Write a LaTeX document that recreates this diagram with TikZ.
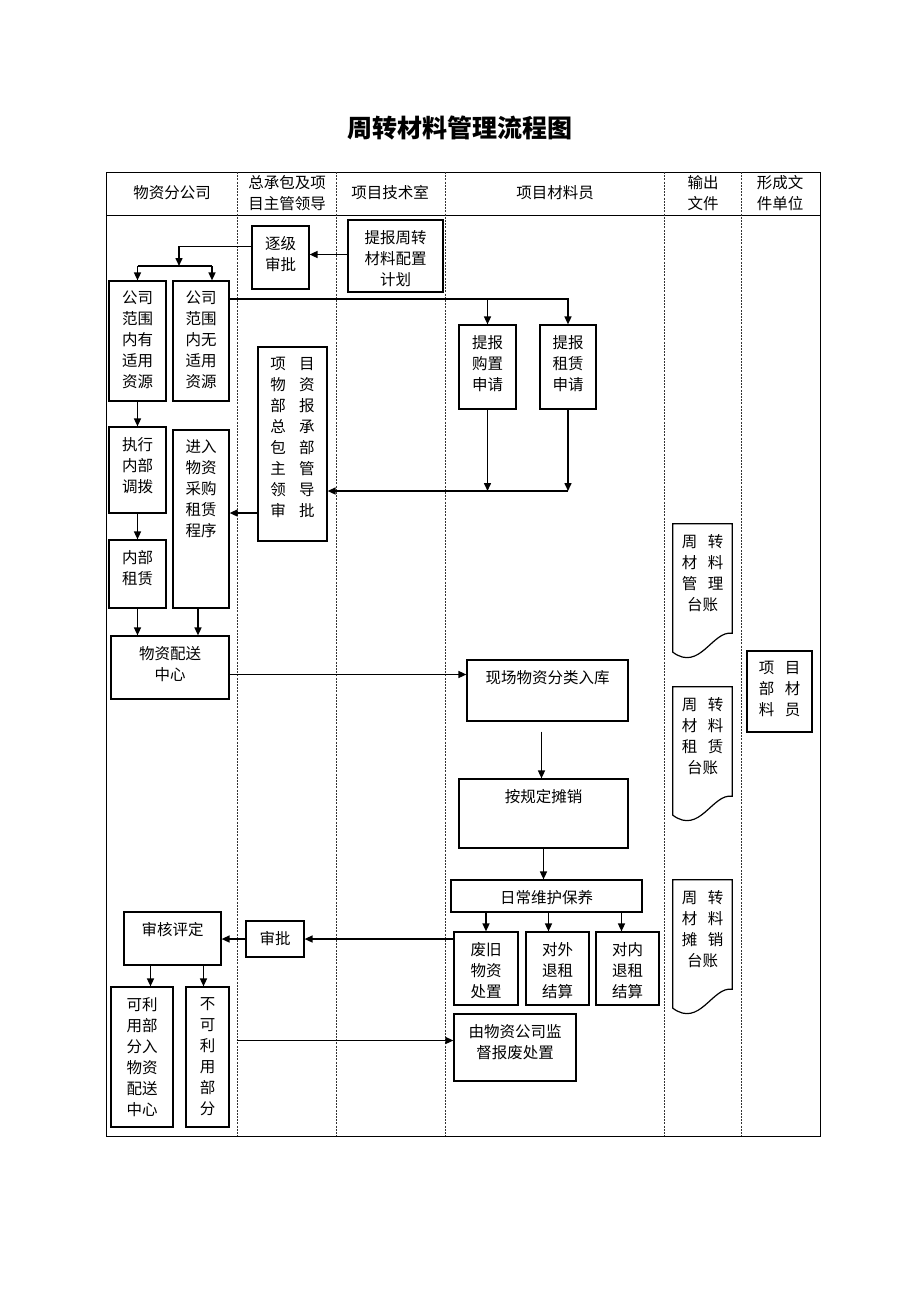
\documentclass[tikz,border=0pt]{standalone}
\usepackage{fontspec}
\setmainfont{Noto Sans CJK SC}
\usetikzlibrary{arrows.meta}
\newcommand{\gapa}{\hspace{13.5pt}}
\newcommand{\gapb}{\hspace{10.5pt}}
\begin{document}
\begin{tikzpicture}
        [
        x=1pt, y=-1pt,
        font=\fontsize{15.5}{21}\selectfont,
        txt/.style={anchor=north, align=center, inner sep=0pt, yshift=-10.5pt},
        box/.style={draw, line width=1.2pt, inner sep=0pt, label={[txt]north:#1}},
        doc/.style={inner sep=0pt, label={[txt]north:#1}},
        sz/.style 2 args={minimum width=#1, minimum height=#2},
        arr/.style={line width=1.5pt, -{Triangle[length=8pt,width=7pt]}},
        lane/.style={line width=0.7pt, black!80, dash pattern=on 2pt off 1.2pt},
        ]
        \useasboundingbox (0,0) rectangle (920,1302);
        \node[font=\fontsize{25}{25}\selectfont\bfseries] (title) at (460,128) {周转材料管理流程图};
        \draw[line width=0.8pt] (106,172) rectangle (820,1136);
        \draw[line width=0.8pt] (106,215) -- (820,215);
        \foreach \x in {237,336,445,664,741}
            \draw[lane] (\x,172) -- (\x,1136);
        \node (h1) at (172,193) {物资分公司};
        \node[align=center] (h2) at (287,193) {总承包及项\\目主管领导};
        \node (h3) at (390,193) {项目技术室};
        \node (h4) at (555,193) {项目材料员};
        \node[align=center] (h5) at (703,193) {输出\\文件};
        \node[align=center] (h6) at (780,193) {形成文\\件单位};

        \node[box={逐级\\审批}, sz={57}{63}] (zhuji) at (280.5,257.5) {};
        \node[box={提报周转\\材料配置\\计划}, sz={95}{72}] (jihua) at (395.5,256) {};
        \node[box={公司\\范围\\内有\\适用\\资源}, sz={57}{120}] (youzy) at (137.5,341) {};
        \node[box={公司\\范围\\内无\\适用\\资源}, sz={56}{120}] (wuzy) at (201,341) {};
        \node[box={提报\\购置\\申请}, sz={57}{84}] (goumai) at (487.5,367) {};
        \node[box={提报\\租赁\\申请}, sz={56}{84}] (zulin) at (568,367) {};
        \node[box={项\gapa 目\\物\gapa 资\\部\gapa 报\\总\gapa 承\\包\gapa 部\\主\gapa 管\\领\gapa 导\\审\gapa 批}, sz={69}{194}] (xmb) at (292.5,444) {};
        \node[box={执行\\内部\\调拨}, sz={57}{86}] (zhixing) at (137.5,470) {};
        \node[box={进入\\物资\\采购\\租赁\\程序}, sz={56}{178}] (jinru) at (201,519) {};
        \node[box={内部\\租赁}, sz={57}{68}] (neibu) at (137.5,574) {};
        \node[box={物资配送\\中心}, sz={118}{63}] (peisong) at (170,667.5) {};
        \node[box={现场物资分类入库}, sz={161}{61}] (xianchang) at (547.5,690.5) {};
        \node[box={按规定摊销}, sz={169}{69}] (tanxiao) at (543.5,813.5) {};
        \node[box={日常维护保养}, sz={191}{32}] (richang) at (546.5,896) {};
        \node[box={废旧\\物资\\处置}, sz={64}{73}] (feijiu) at (486,968.5) {};
        \node[box={对外\\退租\\结算}, sz={63}{73}] (duiwai) at (557.5,968.5) {};
        \node[box={对内\\退租\\结算}, sz={63}{73}] (duinei) at (627.5,968.5) {};
        \node[box={审批}, sz={58}{36}] (shenpi) at (275,939) {};
        \node[box={审核评定}, sz={97}{53}] (shenhe) at (172.5,938.5) {};
        \node[box={可利\\用部\\分入\\物资\\配送\\中心}, sz={62}{140}] (keli) at (142,1057) {};
        \node[box={不\\可\\利\\用\\部\\分}, sz={43}{140}] (buke) at (207.5,1057) {};
        \node[box={由物资公司监\\督报废处置}, sz={122}{67}] (baofei) at (515,1047.5) {};
        \node[box={项\gapb 目\\部\gapb 材\\料\gapb 员}, sz={65}{81}] (clry) at (779.5,691.5) {};
        \node[doc={周\gapb 转\\材\gapb 料\\管\gapb 理\\台账}, sz={59}{136}] (tz1) at (702.5,592) {};
        \node[doc={周\gapb 转\\材\gapb 料\\租\gapb 赁\\台账}, sz={59}{136}] (tz2) at (702.5,755) {};
        \node[doc={周\gapb 转\\材\gapb 料\\摊\gapb 销\\台账}, sz={59}{136}] (tz3) at (702.5,948) {};
        \foreach \d in {tz1,tz2,tz3}
            \draw[line width=1.2pt] (\d.north west) -- (\d.north east) -- ([yshift=27pt]\d.south east)
                .. controls ([xshift=-20pt,yshift=30pt]\d.south east) and ([xshift=27pt,yshift=-12pt]\d.south west) .. ([yshift=8pt]\d.south west) -- cycle;

        \draw[arr] ([yshift=3pt]jihua.west |- zhuji.east) -- ([yshift=3pt]zhuji.east);
        \coordinate (fk) at (179,266);
        \draw[arr] ([yshift=11pt]zhuji.west) -| (fk);
        \draw[line width=1.5pt] (youzy.north |- fk) -- ([xshift=11pt]wuzy.north |- fk);
        \draw[arr] (youzy.north |- fk) -- (youzy.north);
        \draw[arr] ([xshift=11pt]wuzy.north |- fk) -- ([xshift=11pt]wuzy.north);
        \coordinate (r1) at ([yshift=42pt]wuzy.east);
        \draw[arr] (r1) -| (zulin.north);
        \draw[arr] (r1 -| goumai.north) -- (goumai.north);
        \coordinate (hb) at (568,491);
        \draw[arr] (goumai.south) -- (goumai.south |- hb);
        \draw[arr] (zulin.south) -- (hb);
        \draw[arr] (hb) -- (hb -| xmb.east);
        \draw[arr] ([yshift=6pt]xmb.west |- jinru.east) -- ([yshift=6pt]jinru.east);
        \draw[arr] (youzy.south) -- (zhixing.north);
        \draw[arr] (zhixing.south) -- (neibu.north);
        \draw[arr] (neibu.south) -- (neibu.south |- peisong.north);
        \draw[arr] ([xshift=-3pt]jinru.south) -- ([xshift=-3pt]jinru.south |- peisong.north);
        \draw[arr] ([yshift=-7pt]peisong.east) -- ([yshift=-7pt]peisong.east -| xianchang.west);
        \draw[arr, shorten <=10pt] ([xshift=-2pt]xianchang.south -| tanxiao.north) -- ([xshift=-2pt]tanxiao.north);
        \draw[arr] (tanxiao.south) -- (tanxiao.south |- richang.north);
        \draw[arr] (richang.south -| feijiu.north) -- (feijiu.north);
        \draw[arr] ([xshift=-9pt]richang.south -| duiwai.north) -- ([xshift=-9pt]duiwai.north);
        \draw[arr] ([xshift=-6pt]richang.south -| duinei.north) -- ([xshift=-6pt]duinei.north);
        \draw[arr] (shenpi.east -| feijiu.west) -- (shenpi.east);
        \draw[arr] (shenpi.west) -- (shenpi.west -| shenhe.east);
        \draw[arr] ([xshift=-22pt]shenhe.south) -- ([xshift=-22pt]shenhe.south |- keli.north);
        \draw[arr] ([xshift=31pt]shenhe.south) -- ([xshift=31pt]shenhe.south |- buke.north);
        \draw[arr] ([xshift=7pt,yshift=7pt]buke.east |- baofei.west) -- ([yshift=7pt]baofei.west);
\end{tikzpicture}
\end{document}
